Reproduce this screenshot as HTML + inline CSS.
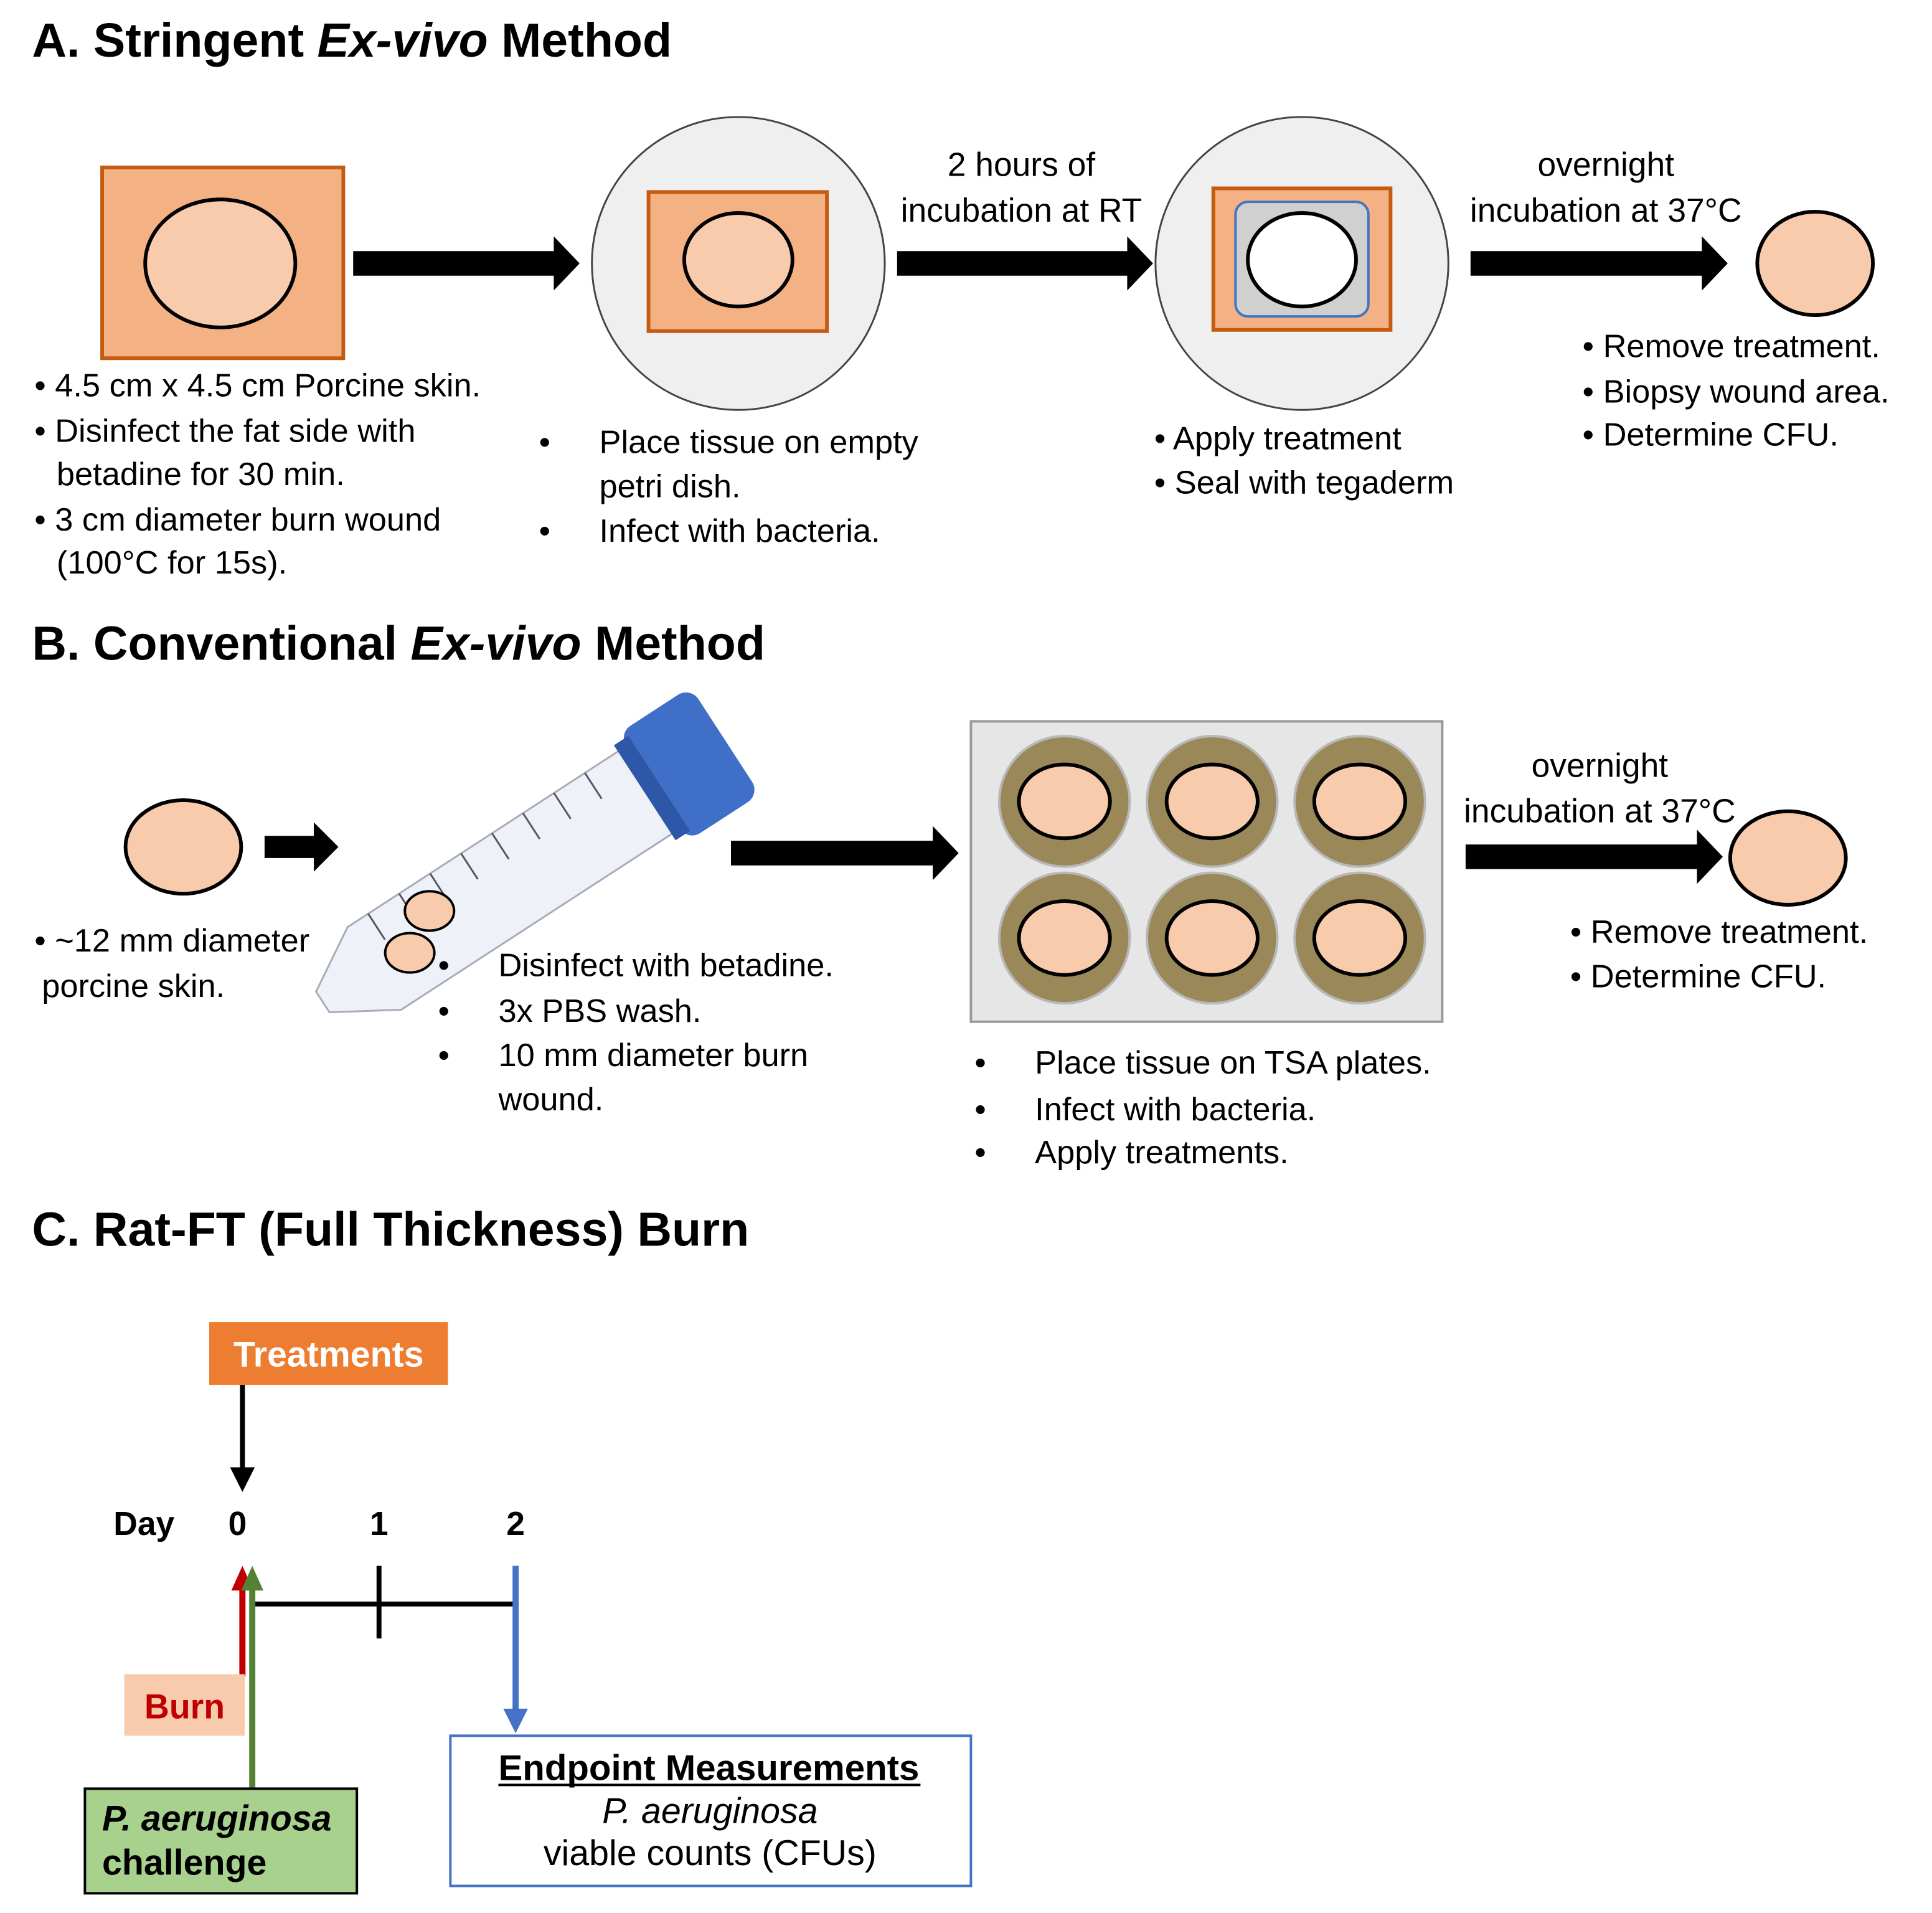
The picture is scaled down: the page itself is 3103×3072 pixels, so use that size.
<!DOCTYPE html>
<html><head><meta charset="utf-8">
<style>
html,body{margin:0;padding:0;background:#fff;}
svg{display:block;}
text{font-family:"Liberation Sans",sans-serif;}
</style></head>
<body>
<svg width="3103" height="3072" viewBox="0 0 1570 1554" preserveAspectRatio="none" xmlns="http://www.w3.org/2000/svg">
<!-- A -->
<text x="26" y="46" font-size="39" font-weight="bold">A. Stringent <tspan font-style="italic">Ex-vivo</tspan> Method</text>
<rect x="83" y="136" width="196" height="155" fill="#F4B183" stroke="#C55A11" stroke-width="3"/>
<ellipse cx="179" cy="214" rx="61" ry="52" fill="#F8CBAD" stroke="#000" stroke-width="3"/>
<path d="M287,204 H450 V192 L471,214 L450,236 V224 H287 Z"/>
<circle cx="600" cy="214" r="119" fill="#efefef" stroke="#444" stroke-width="1.5"/>
<rect x="527" y="156" width="145" height="113" fill="#F4B183" stroke="#C55A11" stroke-width="3"/>
<ellipse cx="600" cy="211" rx="44" ry="38" fill="#F8CBAD" stroke="#000" stroke-width="3"/>
<path d="M729,204 H916 V192 L937,214 L916,236 V224 H729 Z"/>
<text x="830" y="143" font-size="27" text-anchor="middle">2 hours of</text>
<text x="830" y="180" font-size="27" text-anchor="middle">incubation at RT</text>
<circle cx="1058" cy="214" r="119" fill="#efefef" stroke="#444" stroke-width="1.5"/>
<rect x="986" y="153" width="144" height="115" fill="#F4B183" stroke="#C55A11" stroke-width="3"/>
<rect x="1004" y="164" width="108" height="93" rx="10" fill="#d0d0d0" stroke="#4472C4" stroke-width="2"/>
<ellipse cx="1058" cy="211" rx="44" ry="38" fill="#fff" stroke="#000" stroke-width="3"/>
<path d="M1195,204 H1383 V192 L1404,214 L1383,236 V224 H1195 Z"/>
<text x="1305" y="143" font-size="27" text-anchor="middle">overnight</text>
<text x="1305" y="180" font-size="27" text-anchor="middle">incubation at 37°C</text>
<ellipse cx="1475" cy="214" rx="47" ry="42" fill="#F8CBAD" stroke="#000" stroke-width="3"/>
<g font-size="26.5">
<text x="28" y="322">• 4.5 cm x 4.5 cm Porcine skin.</text>
<text x="28" y="359">• Disinfect the fat side with</text>
<text x="46" y="394">betadine for 30 min.</text>
<text x="28" y="431">• 3 cm diameter burn wound</text>
<text x="46" y="466">(100°C for 15s).</text>
<text x="438" y="368">•</text><text x="487" y="368">Place tissue on empty</text>
<text x="487" y="404">petri dish.</text>
<text x="438" y="440">•</text><text x="487" y="440">Infect with bacteria.</text>
<text x="938" y="365">• Apply treatment</text>
<text x="938" y="401">• Seal with tegaderm</text>
<text x="1286" y="290">• Remove treatment.</text>
<text x="1286" y="327">• Biopsy wound area.</text>
<text x="1286" y="362">• Determine CFU.</text>
</g>
<!-- B -->
<text x="26" y="536" font-size="39" font-weight="bold">B. Conventional <tspan font-style="italic">Ex-vivo</tspan> Method</text>
<ellipse cx="149" cy="688" rx="47" ry="38" fill="#F8CBAD" stroke="#000" stroke-width="3"/>
<path d="M215,679 H255 V668 L275,688 L255,708 V697 H215 Z"/>
<g transform="translate(430,705) rotate(-33)">
<path d="M-150,-40 H120 V40 H-150 L-200,10 L-200,-10 Z" fill="#eef2f8" stroke="#aab" stroke-width="1.5"/>
<g stroke="#556" stroke-width="1.5">
<line x1="-130" y1="-40" x2="-130" y2="-15"/><line x1="-100" y1="-40" x2="-100" y2="-15"/><line x1="-70" y1="-40" x2="-70" y2="-15"/><line x1="-40" y1="-40" x2="-40" y2="-15"/><line x1="-10" y1="-40" x2="-10" y2="-15"/><line x1="20" y1="-40" x2="20" y2="-15"/><line x1="50" y1="-40" x2="50" y2="-15"/><line x1="80" y1="-40" x2="80" y2="-15"/>
</g>
<rect x="120" y="-52" width="70" height="104" rx="12" fill="#3f6fc6"/>
<rect x="112" y="-46" width="14" height="92" fill="#2f57a8"/>
</g>
<ellipse cx="349" cy="740" rx="20" ry="16" fill="#F8CBAD" stroke="#000" stroke-width="2"/>
<ellipse cx="333" cy="774" rx="20" ry="16" fill="#F8CBAD" stroke="#000" stroke-width="2"/>
<path d="M594,683 H758 V671 L779,693 L758,715 V703 H594 Z"/>
<rect x="789" y="586" width="383" height="244" fill="#e6e6e6" stroke="#999" stroke-width="2"/>
<g stroke="#000" stroke-width="3" fill="#F8CBAD">
<circle cx="865" cy="651" r="53" fill="#9a8858" stroke="#b8b8b8" stroke-width="2"/>
<circle cx="985" cy="651" r="53" fill="#9a8858" stroke="#b8b8b8" stroke-width="2"/>
<circle cx="1105" cy="651" r="53" fill="#9a8858" stroke="#b8b8b8" stroke-width="2"/>
<circle cx="865" cy="762" r="53" fill="#9a8858" stroke="#b8b8b8" stroke-width="2"/>
<circle cx="985" cy="762" r="53" fill="#9a8858" stroke="#b8b8b8" stroke-width="2"/>
<circle cx="1105" cy="762" r="53" fill="#9a8858" stroke="#b8b8b8" stroke-width="2"/>
<ellipse cx="865" cy="651" rx="37" ry="30"/><ellipse cx="985" cy="651" rx="37" ry="30"/><ellipse cx="1105" cy="651" rx="37" ry="30"/>
<ellipse cx="865" cy="762" rx="37" ry="30"/><ellipse cx="985" cy="762" rx="37" ry="30"/><ellipse cx="1105" cy="762" rx="37" ry="30"/>
</g>
<path d="M1191,686 H1379 V674 L1400,696 L1379,718 V706 H1191 Z"/>
<text x="1300" y="631" font-size="27" text-anchor="middle">overnight</text>
<text x="1300" y="668" font-size="27" text-anchor="middle">incubation at 37°C</text>
<ellipse cx="1453" cy="697" rx="47" ry="38" fill="#F8CBAD" stroke="#000" stroke-width="3"/>
<g font-size="26.5">
<text x="28" y="773">• ~12 mm diameter</text>
<text x="34" y="810">porcine skin.</text>
<text x="356" y="793">•</text><text x="405" y="793">Disinfect with betadine.</text>
<text x="356" y="830">•</text><text x="405" y="830">3x PBS wash.</text>
<text x="356" y="866">•</text><text x="405" y="866">10 mm diameter burn</text>
<text x="405" y="902">wound.</text>
<text x="792" y="872">•</text><text x="841" y="872">Place tissue on TSA plates.</text>
<text x="792" y="910">•</text><text x="841" y="910">Infect with bacteria.</text>
<text x="792" y="945">•</text><text x="841" y="945">Apply treatments.</text>
<text x="1276" y="766">• Remove treatment.</text>
<text x="1276" y="802">• Determine CFU.</text>
</g>
<!-- C -->
<text x="26" y="1012" font-size="39" font-weight="bold">C. Rat-FT (Full Thickness) Burn</text>
<rect x="170" y="1074" width="194" height="51" fill="#ED7D31"/>
<text x="267" y="1110" font-size="29" font-weight="bold" fill="#fff" text-anchor="middle">Treatments</text>
<line x1="197" y1="1125" x2="197" y2="1196" stroke="#000" stroke-width="4"/>
<path d="M187,1192 L207,1192 L197,1212 Z"/>
<g font-size="27" font-weight="bold">
<text x="117" y="1247" text-anchor="middle">Day</text>
<text x="193" y="1247" text-anchor="middle">0</text>
<text x="308" y="1247" text-anchor="middle">1</text>
<text x="419" y="1247" text-anchor="middle">2</text>
</g>
<line x1="205" y1="1303" x2="418" y2="1303" stroke="#000" stroke-width="4"/>
<line x1="308" y1="1272" x2="308" y2="1331" stroke="#000" stroke-width="4"/>
<line x1="419" y1="1272" x2="419" y2="1392" stroke="#4472C4" stroke-width="5"/>
<path d="M409,1388 L429,1388 L419,1408 Z" fill="#4472C4"/>
<line x1="197" y1="1362" x2="197" y2="1290" stroke="#C00000" stroke-width="5"/>
<path d="M188,1292 L206,1292 L197,1272 Z" fill="#C00000"/>
<line x1="205" y1="1452" x2="205" y2="1290" stroke="#548235" stroke-width="5"/>
<path d="M196,1292 L214,1292 L205,1272 Z" fill="#548235"/>
<rect x="101" y="1360" width="98" height="50" fill="#F8CBAD"/>
<text x="150" y="1396" font-size="28" font-weight="bold" fill="#C00000" text-anchor="middle">Burn</text>
<rect x="69" y="1453" width="221" height="85" fill="#A9D18E" stroke="#000" stroke-width="2"/>
<text x="83" y="1487" font-size="29" font-weight="bold" font-style="italic">P. aeruginosa</text>
<text x="83" y="1523" font-size="29" font-weight="bold">challenge</text>
<rect x="366" y="1410" width="423" height="122" fill="#fff" stroke="#4472C4" stroke-width="2"/>
<text x="405" y="1446" font-size="29" font-weight="bold" textLength="342" lengthAdjust="spacingAndGlyphs">Endpoint Measurements</text>
<line x1="405" y1="1450" x2="748" y2="1450" stroke="#000" stroke-width="2"/>
<text x="577" y="1481" font-size="29" font-style="italic" text-anchor="middle">P. aeruginosa</text>
<text x="577" y="1515" font-size="29" text-anchor="middle">viable counts (CFUs)</text>
</svg>
</body></html>
